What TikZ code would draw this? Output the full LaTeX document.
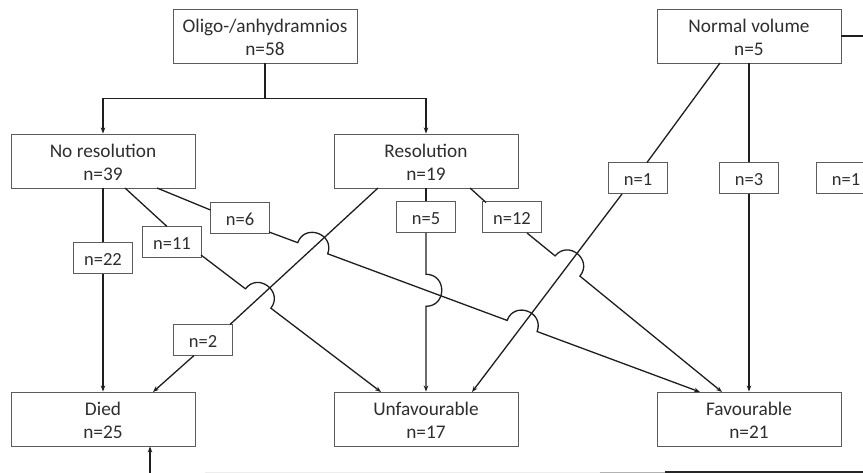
\documentclass[tikz,border=0pt]{standalone}
\usepackage{fontspec}
\setmainfont{Carlito}
\usetikzlibrary{arrows.meta,calc}
\definecolor{boxgray}{HTML}{5C5C5C}
\definecolor{textgray}{HTML}{2E2E2E}
\definecolor{linegray}{HTML}{1E1E1E}
\newcommand\mkhop[3]{%
  \coordinate (#1a) at ($(#1)!16pt!(#2)$);
  \coordinate (#1b) at ($(#1)!16pt!(#3)$);
  \coordinate (#1ac) at ($(#1a)!21pt!90:(#1)$);
  \coordinate (#1bc) at ($(#1b)!21pt!-90:(#1)$);
}
\newcommand\tstrut{\rule{0pt}{15.5pt}}
\newcommand\lstrut{\rule{0pt}{14.5pt}}
\begin{document}
\begin{tikzpicture}[x=1pt,y=-1pt,
  box/.style={draw=boxgray, line width=0.9pt, minimum width=184pt, minimum height=54pt,
    inner sep=0pt, align=center, text=textgray, font=\fontsize{19.3}{23}\selectfont},
  lab/.style={draw=boxgray, line width=0.9pt, minimum width=59pt, minimum height=31pt,
    inner sep=0pt, text=textgray, font=\fontsize{18.5}{22}\selectfont},
  conn/.style={draw=linegray, line width=1.3pt},
  arr/.style={conn, -{Stealth[length=6pt,width=4.5pt]}},
]
\useasboundingbox (0,0) rectangle (863,473);
\clip (0,0) rectangle (863,473);

% main boxes
\node[box] (oligo)  at (265,36)  {\tstrut Oligo-/anhydramnios\\n=58};
\node[box] (normal) at (749,36)  {\tstrut Normal volume\\n=5};
\node[box] (nores)  at (103,161) {\tstrut No resolution\\n=39};
\node[box] (res)    at (426,161) {\tstrut Resolution\\n=19};
\node[box] (died)   at (103,419) {\tstrut Died\\n=25};
\node[box] (unfav)  at (426,419) {\tstrut Unfavourable\\n=17};
\node[box] (fav)    at (749,419) {\tstrut Favourable\\n=21};

% label boxes
\node[lab] (l22) at (103,258) {\lstrut n=22};
\node[lab] (l11) at (172,242) {\lstrut n=11};
\node[lab] (l6)  at (240,218) {\lstrut n=6};
\node[lab] (l2)  at (203,340) {\lstrut n=2};
\node[lab] (l5)  at (426,217) {\lstrut n=5};
\node[lab] (l12) at (512,217) {\lstrut n=12};
\node[lab] (l1a) at (638,178) {\lstrut n=1};
\node[lab] (l3)  at (749,178) {\lstrut n=3};
\node[lab] (l1b) at (846,178) {\lstrut n=1};

% split from top box
\draw[conn] (oligo.south) -- ++(0,35) coordinate (split);
\draw[arr] (split) -| (nores.north);
\draw[arr] (split) -| (res.north);

% named connector points
\coordinate (s11) at (125,188);   \coordinate (e11) at (167,226.5);
\coordinate (s6)  at (157,188);   \coordinate (e6)  at (210.5,210);
\coordinate (s2)  at (378,188);   \coordinate (e2)  at (230,324.5);
\coordinate (s12) at (470,188);   \coordinate (e12) at (486,202.5);
\coordinate (s1)  at (720,63);    \coordinate (e1)  at (647,162.5);
\coordinate (c11a) at (201,255);  \coordinate (c11b) at (381,392);
\coordinate (c6a)  at (269,232);  \coordinate (c6b)  at (700,392);
\coordinate (c2a)  at (194,355.5);\coordinate (c2b)  at (153,392);
\coordinate (c12a) at (527,233);  \coordinate (c12b) at (722,392);
\coordinate (c1a)  at (622,194);  \coordinate (c1b)  at (472,392);
\coordinate (c5a)  at (l5.south); \coordinate (c5b)  at (unfav.north);

% crossings
\coordinate (xA) at (intersection of c6a--c6b and s2--e2);
\coordinate (xB) at (intersection of c11a--c11b and s2--e2);
\coordinate (xC) at (intersection of c5a--c5b and c6a--c6b);
\coordinate (xD) at (intersection of c6a--c6b and c1a--c1b);
\coordinate (xE) at (intersection of c12a--c12b and c1a--c1b);
\mkhop{xA}{c6a}{c6b}
\mkhop{xB}{c11a}{c11b}
\mkhop{xC}{c5a}{c5b}
\mkhop{xD}{c6a}{c6b}
\mkhop{xE}{c12a}{c12b}

% No resolution branches
\draw[conn] (nores.south -| l22) -- (l22.north);
\draw[arr] (l22.south) -- (died.north -| l22);
\draw[conn] (s11) -- (e11);
\draw[arr] (c11a) -- (xBa) .. controls (xBac) and (xBbc) .. (xBb) -- (c11b);
\draw[conn] (s6) -- (e6);
\draw[arr] (c6a) -- (xAa) .. controls (xAac) and (xAbc) .. (xAb)
  -- (xDa) .. controls (xDac) and (xDbc) .. (xDb) -- (c6b);

% Resolution branches
\draw[conn] (s2) -- (e2);
\draw[arr] (c2a) -- (c2b);
\draw[conn] (res.south) -- (l5.north);
\draw[arr] (c5a) -- (xCa) .. controls (xCac) and (xCbc) .. (xCb) -- (c5b);
\draw[conn] (s12) -- (e12);
\draw[arr] (c12a) -- (xEa) .. controls (xEac) and (xEbc) .. (xEb) -- (c12b);

% Normal volume branches
\draw[conn] (s1) -- (e1);
\draw[arr] (c1a) -- (c1b);
\draw[conn] (normal.south) -- (l3.north);
\draw[arr] (l3.south) -- (fav.north);
\draw[conn] (normal.east) -- ++(40,0);

% bottom edge remnants
\coordinate (b0) at (150,480);
\draw[arr] (b0) -- (died.south -| b0);
\draw[line width=1pt, black!7] (205,472) -- (600,472);
\draw[line width=1pt, black!30] (600,472) -- (665,472);
\draw[line width=1.2pt, black!85] (665,472) -- (870,472);
\end{tikzpicture}
\end{document}
